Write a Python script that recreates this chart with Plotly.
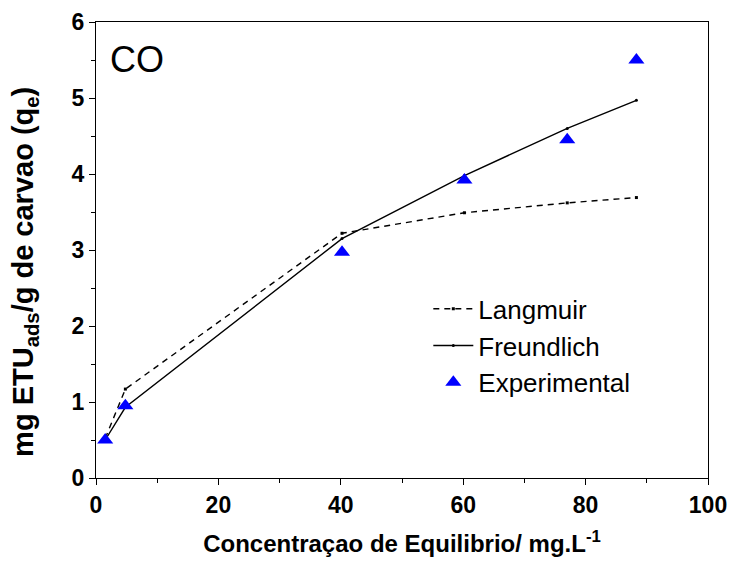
import plotly.graph_objects as go

x_vals = [1.5, 4.8, 40.2, 60.2, 77.0, 88.3]
experimental = [0.50, 0.95, 2.97, 3.92, 4.45, 5.50]
langmuir = [0.52, 1.17, 3.22, 3.49, 3.62, 3.69]
freundlich = [0.50, 0.93, 3.15, 3.98, 4.60, 4.97]

FONT = "Liberation Sans, Arial"
PLOT_L, PLOT_R = 96, 21
PLOT_W = 729 - PLOT_L - PLOT_R

fig = go.Figure()
fig.add_trace(go.Scatter(x=x_vals, y=langmuir, mode="lines+markers", name="Langmuir",
                         line=dict(color="black", width=1.4, dash="6px,5px"),
                         marker=dict(symbol="square", size=3, color="black")))
fig.add_trace(go.Scatter(x=x_vals, y=freundlich, mode="lines+markers", name="Freundlich",
                         line=dict(color="black", width=1.4),
                         marker=dict(symbol="circle", size=3, color="black")))
fig.add_trace(go.Scatter(x=x_vals, y=experimental, mode="markers", name="Experimental",
                         marker=dict(symbol="triangle-up", size=14, color="#0000ff")))

fig.add_annotation(x=2.0, y=5.51, xref="x", yref="y", text="CO", showarrow=False,
                   xanchor="left", yanchor="middle",
                   font=dict(family=FONT, size=36, color="black"))

# y-axis title (rotated text)
fig.add_annotation(x=(25 - PLOT_L) / PLOT_W, y=0.452, xref="paper", yref="paper",
                   xanchor="center", yanchor="middle",
                   text="mg ETU<sub>ads</sub>/g de carvao (q<sub>e</sub>)", textangle=-90,
                   showarrow=False,
                   font=dict(family=FONT, size=29, color="black", weight="bold"))

axis_common = dict(showline=True, linecolor="black", linewidth=1.4, mirror=True,
                   ticks="outside", ticklen=6, tickwidth=1.4, tickcolor="black",
                   showgrid=False, zeroline=False, automargin=False,
                   tickfont=dict(family=FONT, size=23, color="black", weight="bold"))

fig.update_xaxes(range=[0, 100], tick0=0, dtick=20,
                 minor=dict(ticks="outside", ticklen=4, tickwidth=1.4, tickcolor="black", dtick=10),
                 title=dict(text="Concentraçao de Equilibrio/ mg.L<sup>-1</sup>", standoff=18,
                            font=dict(family=FONT, size=24, color="black", weight="bold")),
                 **axis_common)
fig.update_yaxes(range=[0, 6], tick0=0, dtick=1,
                 minor=dict(ticks="outside", ticklen=4, tickwidth=1.4, tickcolor="black", dtick=0.5),
                 **axis_common)

fig.update_layout(width=729, height=563, margin=dict(l=PLOT_L, r=PLOT_R, t=22, b=85),
                  paper_bgcolor="white", plot_bgcolor="white",
                  showlegend=True,
                  legend=dict(x=0.543, y=0.4225, xanchor="left", yanchor="top",
                              bgcolor="rgba(0,0,0,0)", borderwidth=0,
                              font=dict(family=FONT, size=26, color="black"),
                              itemwidth=40, tracegroupgap=0))

fig.write_html("out.html")
